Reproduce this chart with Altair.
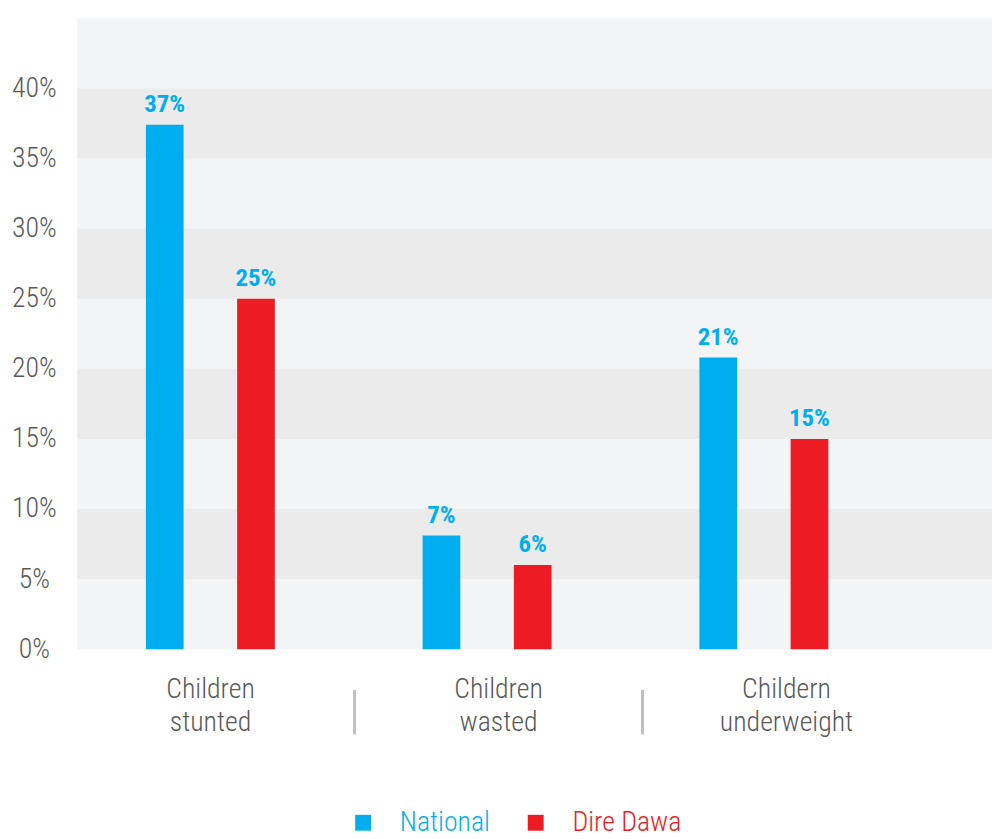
import altair as alt
import pandas as pd

categories = ["Children stunted", "Children wasted", "Childern underweight"]
series_names = ["National", "Dire Dawa"]
national = [37.4, 8.1, 20.8]
dire_dawa = [25.0, 6.0, 15.0]
national_text = ["37%", "7%", "21%"]
dire_text = ["25%", "6%", "15%"]
y_ticks = [0, 5, 10, 15, 20, 25, 30, 35, 40]
band_lo = [5, 15, 25, 35]
band_hi = [10, 20, 30, 40]
separator_after = ["Children stunted", "Children wasted"]

BLUE = "#00aeef"
RED = "#ed1c24"
GREY = "#595959"
FONT = "Liberation Sans Narrow, Roboto Condensed, Roboto, sans-serif"

rows = []
for c, n, d, nt, dt in zip(categories, national, dire_dawa, national_text, dire_text):
    rows.append({"cat": c, "series": "National", "value": n / 100, "text": nt})
    rows.append({"cat": c, "series": "Dire Dawa", "value": d / 100, "text": dt})
df = pd.DataFrame(rows)
bands_df = pd.DataFrame({"lo": [v / 100 for v in band_lo], "hi": [v / 100 for v in band_hi]})
sep_df = pd.DataFrame({"lab": separator_after})

W = 922
H = 636

# bars: group step ~279 px; category labels / separators: step ~290 px
x_scale = alt.Scale(domain=categories, range=[-5.5, 831.5], paddingInner=0, paddingOuter=0)
lab_scale = alt.Scale(domain=categories, range=[-11, 860], paddingInner=0, paddingOuter=0)
y_scale = alt.Scale(domain=[0, 0.45], nice=False, zero=True)
off_scale = alt.Scale(domain=series_names, paddingInner=0.587, paddingOuter=0.81)
color_scale = alt.Scale(domain=series_names, range=[BLUE, RED])

x_axis = alt.Axis(
    title=None, labelAngle=0, ticks=False, domain=False, grid=False, orient="bottom",
    labelFont=FONT, labelFontSize=28, labelColor=GREY, labelFontWeight=300,
    labelExpr="split(datum.label, ' ')", labelLineHeight=33,
    labelPadding=27, labelBaseline="top",
)
y_axis = alt.Axis(
    title=None, values=[v / 100 for v in y_ticks], format=".0%",
    ticks=False, domain=False, grid=False,
    labelFont=FONT, labelFontSize=28, labelColor=GREY, labelFontWeight=300,
    labelAlign="center", labelPadding=44, labelBaseline="middle",
)

bands = alt.Chart(bands_df).mark_rect(color="#ebebeb").encode(
    x=alt.value(0),
    x2=alt.value(W),
    y=alt.Y("lo:Q", scale=y_scale, axis=y_axis),
    y2="hi:Q",
)

off_enc = alt.XOffset("series:N", scale=off_scale, sort=series_names)

bars = alt.Chart(df).mark_bar().encode(
    x=alt.X("cat:N", scale=x_scale, sort=categories, axis=None),
    xOffset=off_enc,
    y=alt.Y("value:Q", scale=y_scale, axis=y_axis),
    color=alt.Color(
        "series:N",
        scale=color_scale,
        sort=series_names,
        legend=alt.Legend(
            orient="none", legendX=274, legendY=797, direction="horizontal",
            title=None, symbolType="square", symbolSize=256, symbolStrokeWidth=0,
            symbolOpacity=1, labelFont=FONT, labelFontSize=28, labelOffset=23,
            labelFontWeight=300, columnPadding=32, padding=0,
            labelColor={"expr": "datum.value === 'National' ? '#00aeef' : '#ed1c24'"},
        ),
    ),
)

labels = alt.Chart(df).mark_text(
    dy=-8, baseline="bottom", font=FONT, fontSize=25, fontWeight="bold", color=BLUE
).encode(
    x=alt.X("cat:N", scale=x_scale, sort=categories, axis=None),
    xOffset=off_enc,
    y=alt.Y("value:Q", scale=y_scale, axis=y_axis),
    text="text:N",
)

seps = alt.Chart(sep_df).mark_rule(color="#c0c0c0", strokeWidth=3).encode(
    x=alt.X("lab:N", scale=lab_scale, sort=categories, bandPosition=1, axis=x_axis),
    y=alt.value(677),
    y2=alt.value(722),
)

chart = alt.layer(bands, bars, labels, seps).resolve_scale(x="independent").properties(
    width=W,
    height=H,
    autosize=alt.AutoSizeParams(type="none"),
    padding={"left": 70, "top": 7, "right": 0, "bottom": 188},
).configure_view(fill="#f3f4f6", stroke=None)

chart.save("out.html", embed_options={"renderer": "svg", "actions": False})
